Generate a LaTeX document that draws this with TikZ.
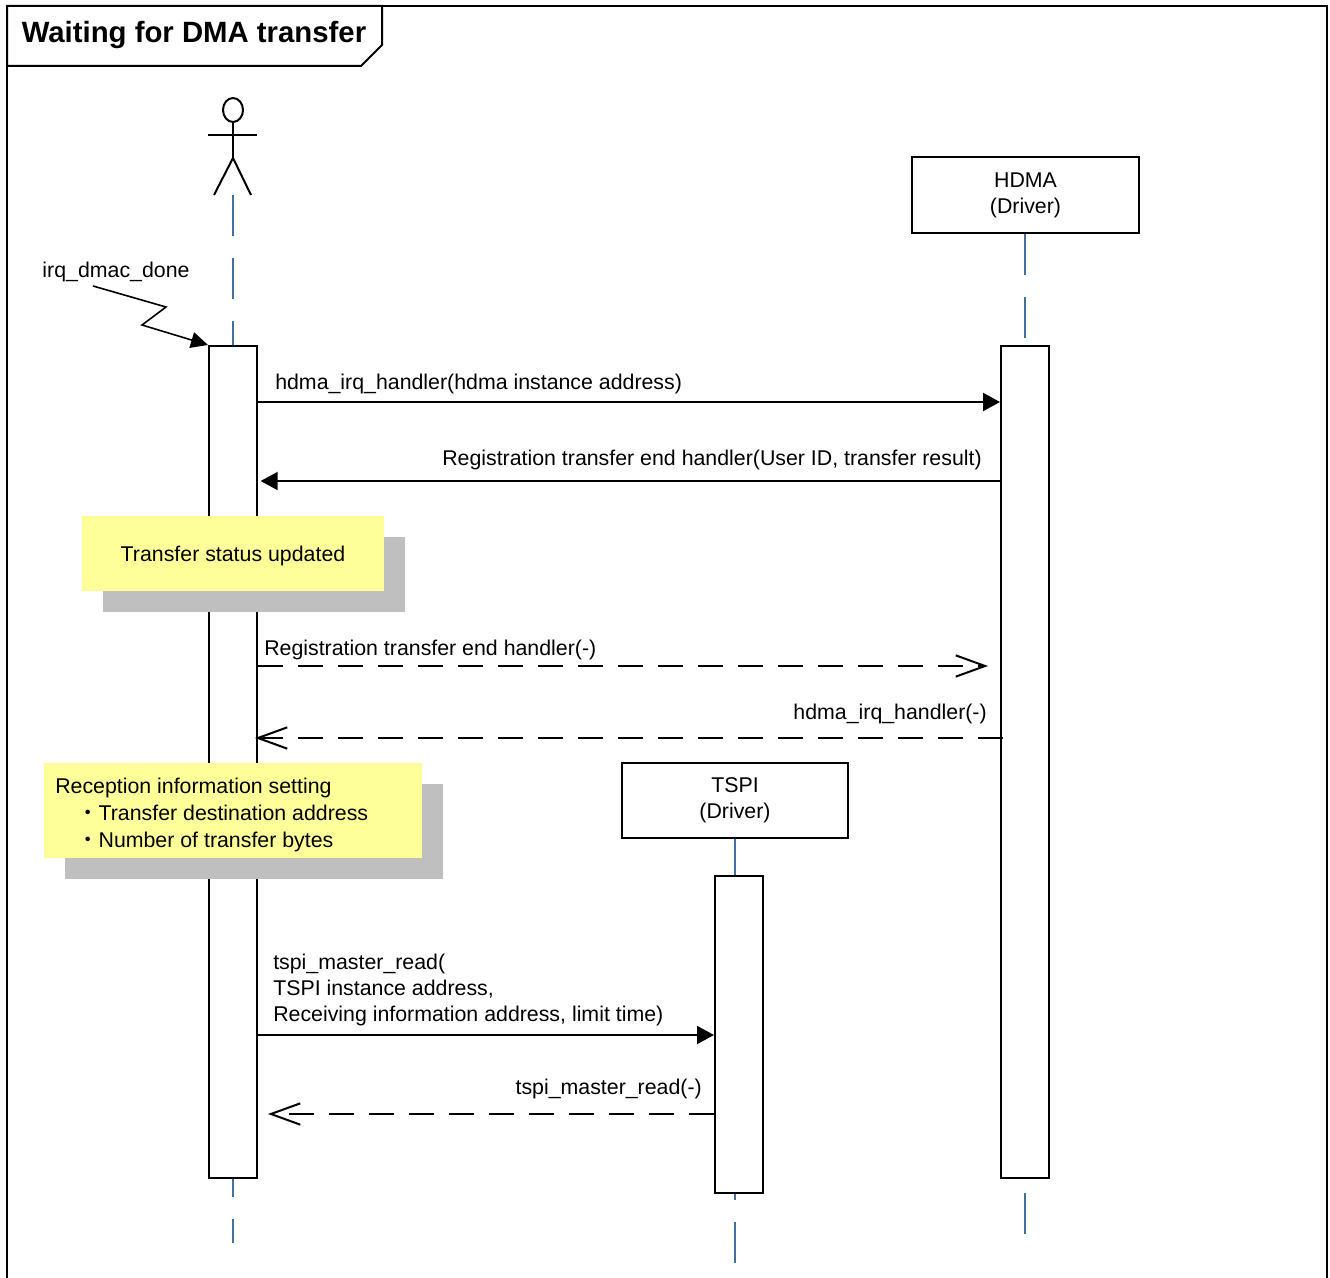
\documentclass[tikz,border=0pt]{standalone}
\usepackage{fontspec}
\setmainfont{Liberation Sans}
\newfontfamily\cjkfont{Noto Sans CJK JP}
\usetikzlibrary{arrows.meta,shadows}
\definecolor{lifeblue}{RGB}{65,113,156}
\definecolor{noteyellow}{RGB}{255,255,153}
\definecolor{shadowgray}{RGB}{191,191,191}
\begin{document}
\begin{tikzpicture}[x=0.75pt,y=-0.75pt,
  objbox/.style={draw=black,line width=1.5pt,fill=white,align=center,inner sep=0pt,
    font=\fontsize{16}{19.5}\selectfont},
  actbox/.style={draw=black,line width=1.5pt,fill=white,minimum width=36pt,inner sep=0pt},
  lifeline/.style={draw=lifeblue,line width=2.1pt},
  msg/.style={line width=1.5pt,-{Triangle[length=12.75pt,width=13.5pt]}},
  reply/.style={line width=1.5pt,dash pattern=on 18.75pt off 11.25pt,
    -{Straight Barb[length=22pt,width=16pt]}},
  lbl/.style={font=\fontsize{16}{19.5}\selectfont,inner sep=0pt,yshift=-1.5pt},
  note/.style={fill=noteyellow,draw=none,inner sep=0pt,
    drop shadow={shadow xshift=15.75pt,shadow yshift=-15.75pt,fill=shadowgray,opacity=1}},
  actorline/.style={line width=1.5pt}]
\useasboundingbox (0,0) rectangle (1330,1277);
% frame
\draw[line width=1.5pt] (7,1300) -- (7,6) -- (1327,6) -- (1327,1300);
\draw[line width=1.5pt,fill=white,line join=miter] (7,6) -- (382,6) -- (382,45) -- (361,66) -- (7,66) -- cycle;
\node[inner sep=0pt,font=\fontsize{22}{26}\bfseries\selectfont] (title) at (194,35) {Waiting for DMA transfer};
% actor
\draw[actorline] (233,110) ellipse [x radius=7.5pt,y radius=9pt];
\draw[actorline] (208,135) -- (257,135);
\draw[actorline] (233,122) -- (233,158);
\draw[actorline] (214,195) -- (233,158) -- (251,195);
\coordinate (actor) at (233,195);
% objects
\node[objbox,minimum width=170.25pt,minimum height=57pt] (hdma) at (1025.5,195) {HDMA\\(Driver)};
\node[objbox,minimum width=169.5pt,minimum height=56.25pt] (tspi) at (735,800.5) {TSPI\\(Driver)};
% activations
\node[actbox,minimum height=624pt] (actA) at (233,762) {};
\node[actbox,minimum height=624pt] (actH) at (1025,762) {};
\node[actbox,minimum height=237.75pt] (actT) at (739,1034.5) {};
% lifelines
\coordinate (endA) at (233,1243);
\coordinate (endH) at (1025,1234);
\coordinate (endT) at (735,1263);
\draw[lifeline,dash pattern=on 30.75pt off 16.5pt] (actor) -- (actA.north);
\draw[lifeline,dash pattern=on 30.75pt off 16.5pt] (hdma.south -| actH.north) -- (actH.north);
\draw[lifeline] (tspi.south) -- (tspi.south |- actT.north);
\draw[lifeline,dash pattern=on 30.75pt off 16.5pt,dash phase=17.25pt] (actA.south) -- (endA);
\draw[lifeline,dash pattern=on 30.75pt off 16.5pt,dash phase=36.75pt] (actH.south) -- (endH);
\draw[lifeline,dash pattern=on 30.75pt off 16.5pt,dash phase=26.25pt] (actT.south -| endT) -- (endT);
% trigger
\node[lbl] (irq) at (116,270) {irq\_dmac\_done};
\coordinate (irqstart) at (93,286);
\draw[line width=1.2pt,-{Triangle[length=12.75pt,width=12pt]}] (irqstart) -- (166,307) -- (142,325) -- (actA.north west);
% messages
\coordinate (y1) at (0,402);
\coordinate (y2) at (0,481);
\coordinate (y3) at (0,666);
\coordinate (y4) at (0,738);
\coordinate (y5) at (0,1035);
\coordinate (y6) at (0,1114);
\draw[msg] (actA.east |- y1) -- (actH.west |- y1);
\node[lbl,anchor=west] (l1) at (275,382) {hdma\_irq\_handler(hdma instance address)};
\draw[msg,shorten >=2pt] (actH.west |- y2) -- (actA.east |- y2);
\node[lbl,anchor=east] (l2) at (982,458) {Registration transfer end handler(User ID, transfer result)};
\draw[reply,shorten >=9pt] (actA.east |- y3) -- (actH.west |- y3);
\node[lbl,anchor=west] (l3) at (264,648) {Registration transfer end handler(-)};
\draw[reply,shorten <=-2.25pt,shorten >=-2.25pt] (actH.west |- y4) -- (actA.east |- y4);
\node[lbl,anchor=east] (l4) at (987,712) {hdma\_irq\_handler(-)};
\draw[msg] (actA.east |- y5) -- (actT.west |- y5);
\node[lbl,anchor=west,align=left] (l5) at (273,988) {tspi\_master\_read(\\TSPI instance address,\\Receiving information address, limit time)};
\draw[reply,shorten >=7.5pt] (actT.west |- y6) -- (actA.east |- y6);
\node[lbl,anchor=east] (l6) at (702,1087) {tspi\_master\_read(-)};
% notes
\node[note,minimum width=226.5pt,minimum height=56.25pt] (n1) at (233,553.5) {};
\node[lbl] (n1text) at (n1.center) {Transfer status updated};
\node[note,minimum width=283.5pt,minimum height=71.25pt] (n2) at (233,810.5) {};
\node[lbl,anchor=west,align=left,font=\fontsize{16}{20.25}\selectfont] (n2text) at (55,813)
  {Reception information setting\\\hspace*{16.5pt}{\cjkfont ・}Transfer destination address\\\hspace*{16.5pt}{\cjkfont ・}Number of transfer bytes};
\end{tikzpicture}
\end{document}
